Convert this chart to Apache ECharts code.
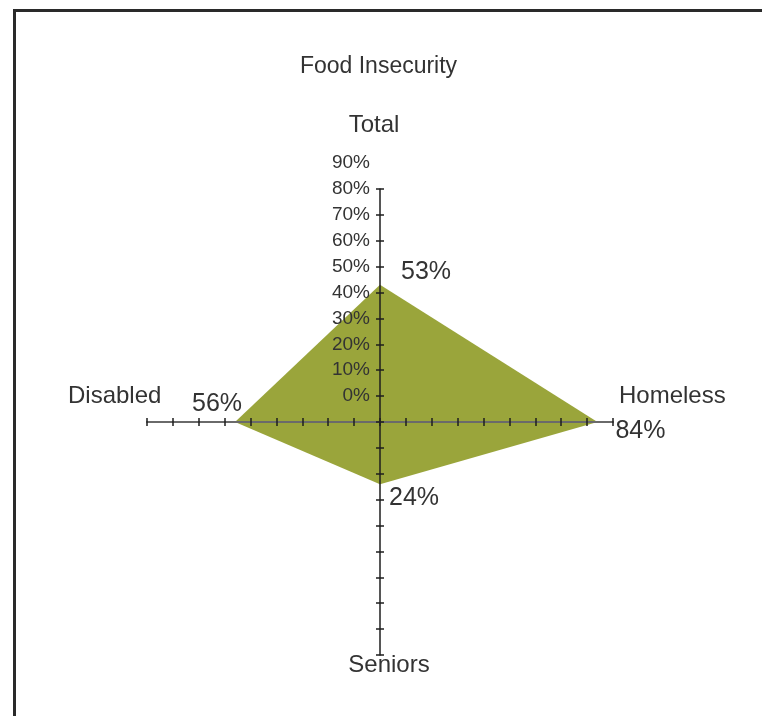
<!DOCTYPE html>
<html>
<head>
<meta charset="utf-8">
<title>Food Insecurity</title>
<script src="https://cdn.jsdelivr.net/npm/echarts@6/dist/echarts.min.js"></script>
<style>
  html, body { margin: 0; padding: 0; background: #ffffff; }
  #chart { width: 762px; height: 716px; }
</style>
</head>
<body>
<div id="chart"></div>
<script>
// Radar axes, in drawing order (top, left, bottom, right)
var categories = ['Total', 'Disabled', 'Seniors', 'Homeless'];
var values = [53, 56, 24, 84];
var axisMax = 90;
var axisStep = 10;
var chartTitle = 'Food Insecurity';

var FONT = '"Liberation Sans", Arial, sans-serif';
var INK = '#333333';
var FILL = '#9aa53b';

var cx = 380, cy = 422, radius = 233;
var steps = axisMax / axisStep;
var stepPx = radius / steps;

// where each value label sits relative to its vertex
var labelOffsets = [[46, -13], [-18, -18], [34, 14], [43, 9]];

var tickStyle = { color: '#1e1e1e', width: 1.5 };

function plainIndicators() {
  return categories.map(function (name) { return { name: name, min: 0, max: axisMax }; });
}

var chart = echarts.init(document.getElementById('chart'), null, { renderer: 'canvas' });

var series = [{
  type: 'radar',
  radarIndex: 0,
  z: 2,
  symbol: 'none',
  lineStyle: { width: 0, color: FILL },
  areaStyle: { color: FILL, opacity: 1 },
  data: [{ value: values, name: chartTitle }],
  silent: true
}];

// one label-only layer per vertex, so each value label can be placed on its own
values.forEach(function (v, k) {
  series.push({
    type: 'radar',
    radarIndex: 0,
    z: 6,
    symbol: 'circle',
    symbolSize: 1,
    itemStyle: { color: 'rgba(0,0,0,0)' },
    lineStyle: { width: 0, opacity: 0 },
    silent: true,
    label: {
      show: true,
      position: 'inside',
      offset: labelOffsets[k],
      fontFamily: FONT,
      fontSize: 25,
      color: INK,
      formatter: function (p) {
        return p.value === values[k] ? p.value + '%' : '';
      }
    },
    data: [{ value: values }]
  });
});

var baseRadar = {
  radius: radius,
  startAngle: 90,
  shape: 'polygon',
  splitNumber: steps,
  z: 5,
  axisName: { show: false },
  splitLine: { show: false },
  splitArea: { show: false }
};

var option = {
  backgroundColor: '#ffffff',
  animation: false,
  radar: [
    // main cross of axes with ticks
    Object.assign({}, baseRadar, {
      center: [cx, cy],
      indicator: categories.map(function (name, i) {
        var horizontal = (i % 2 === 1);
        return {
          name: name, min: 0, max: axisMax,
          axisLine: {
            lineStyle: horizontal ? { color: '#6a6a6a', width: 2 } : { color: '#1e1e1e', width: 1.5 }
          }
        };
      }),
      axisTick: { show: true, length: 4, lineStyle: tickStyle },
      axisLabel: { show: false }
    }),
    // tick marks on the other side of each axis, so they cross it
    Object.assign({}, baseRadar, {
      center: [cx, cy],
      silent: true,
      indicator: plainIndicators(),
      axisLine: { show: false },
      axisLabel: { show: false },
      axisTick: { show: true, length: -4, lineStyle: tickStyle }
    }),
    // percentage scale along the Total axis, set one step above the ticks
    Object.assign({}, baseRadar, {
      center: [cx, cy - stepPx],
      silent: true,
      indicator: categories.map(function (name, i) {
        var ind = { name: name, min: 0, max: axisMax };
        if (i === 0) {
          ind.axisLabel = { show: true };
        }
        return ind;
      }),
      axisLine: { show: false },
      axisTick: { show: false },
      axisLabel: {
        show: false,
        margin: 10,
        fontFamily: FONT,
        fontSize: 19,
        color: INK,
        showMinLabel: true,
        showMaxLabel: true,
        hideOverlap: false,
        formatter: function (v) { return v + '%'; }
      }
    })
  ],
  series: series,
  graphic: [
    {
      type: 'rect',
      z: 10,
      shape: { x: 14.5, y: 10.5, width: 800, height: 800 },
      style: { fill: 'none', stroke: '#2a2a2a', lineWidth: 3 }
    },
    {
      type: 'text', z: 10, x: 378.5, y: 67,
      style: { text: chartTitle, font: '23px ' + FONT, fill: INK, align: 'center', verticalAlign: 'middle' }
    },
    {
      type: 'text', z: 10, x: 374, y: 125,
      style: { text: categories[0], font: '24px ' + FONT, fill: INK, align: 'center', verticalAlign: 'middle' }
    },
    {
      type: 'text', z: 10, x: 68, y: 396,
      style: { text: categories[1], font: '24px ' + FONT, fill: INK, align: 'left', verticalAlign: 'middle' }
    },
    {
      type: 'text', z: 10, x: 389, y: 665,
      style: { text: categories[2], font: '24px ' + FONT, fill: INK, align: 'center', verticalAlign: 'middle' }
    },
    {
      type: 'text', z: 10, x: 619, y: 396,
      style: { text: categories[3], font: '24px ' + FONT, fill: INK, align: 'left', verticalAlign: 'middle' }
    }
  ]
};

chart.setOption(option);
</script>
</body>
</html>
